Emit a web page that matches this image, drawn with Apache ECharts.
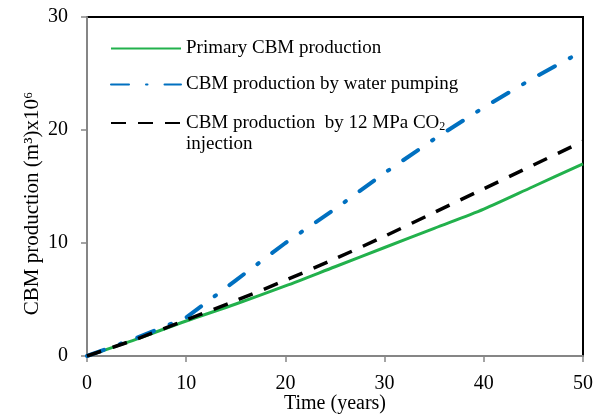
<!DOCTYPE html>
<html><head><meta charset="utf-8">
<script src="https://cdn.jsdelivr.net/npm/echarts@6/dist/echarts.min.js"></script>
<style>html,body{margin:0;padding:0;background:#fff}#c{width:606px;height:416px}</style>
</head><body><div id="c"></div>
<script>
const years = [0, 5, 10, 15, 20, 25, 30, 35, 40, 45, 50];
const primary = [0, 1.5, 3.1, 4.6, 6.2, 7.9, 9.6, 11.3, 13.0, 15.0, 17.0];
const waterPumping = [0, 1.6, 3.4, 6.7, 10.0, 13.0, 16.2, 19.2, 22.0, 24.6, 27.0];
const co2Injection = [0, 1.5, 3.2, 4.9, 6.7, 8.6, 10.6, 12.7, 14.8, 16.9, 19.0];
const xTicks = [0, 10, 20, 30, 40, 50];
const yTicks = [0, 10, 20, 30];
const names = ['Primary CBM production', 'CBM production by water pumping', 'CBM production by 12 MPa CO2 injection'];

const pair = arr => years.map((x, i) => [x, arr[i]]);
const font = 'Liberation Serif';

const rich = {
  a: {fontFamily: font, fontSize: 19, color: '#000', lineHeight: 21},
  s: {fontFamily: font, fontSize: 12, color: '#000', lineHeight: 21, padding: [8, 0, 0, 0]}
};
function legendFor(i, top, extra) {
  return {
    orient: 'vertical', left: 105, top: top, itemWidth: 70, itemHeight: 14,
    data: [names[i]],
    itemStyle: {color: 'transparent', borderWidth: 0, opacity: 0},
    formatter: function (n) {
      if (n === names[2]) return '{a|CBM production  by 12 MPa CO}{s|2}\n{a|injection}';
      return '{a|' + n + '}';
    },
    textStyle: Object.assign({fontFamily: font, fontSize: 19, color: '#000', rich: rich}, extra || {})
  };
}

const chart = echarts.init(document.getElementById('c'), null, {renderer: 'canvas'});
chart.setOption({
  animation: false,
  backgroundColor: '#fff',
  textStyle: {fontFamily: font},
  grid: {left: 87, right: 23, top: 17, bottom: 60, containLabel: false, outerBoundsMode: 'none',
         show: true, borderColor: '#000', borderWidth: 2, backgroundColor: 'transparent'},
  xAxis: {
    type: 'value', min: 0, max: 50, interval: 10,
    name: 'Time (years)', nameLocation: 'middle', nameGap: 38, nameMoveOverlap: false,
    nameTextStyle: {fontFamily: font, fontSize: 20, color: '#000'},
    axisLine: {show: true, lineStyle: {color: '#868686', width: 2}},
    axisTick: {show: true, inside: false, length: 6, lineStyle: {color: '#868686', width: 1.5}},
    axisLabel: {fontFamily: font, fontSize: 20, color: '#000', margin: 18},
    splitLine: {show: false}
  },
  yAxis: {
    type: 'value', min: 0, max: 30, interval: 10,
    name: 'CBM production (m³)x10⁶', nameLocation: 'middle', nameGap: 44, nameMoveOverlap: false,
    nameTextStyle: {fontFamily: font, fontSize: 21, color: '#000', padding: [0, 34, 0, 0]},
    axisLine: {show: true, lineStyle: {color: '#868686', width: 2}},
    axisTick: {show: true, inside: false, length: 6, lineStyle: {color: '#868686', width: 1.5}},
    axisLabel: {fontFamily: font, fontSize: 20, color: '#000', margin: 19},
    splitLine: {show: false}
  },
  legend: [
    legendFor(0, 34),
    legendFor(1, 70),
    legendFor(2, 108, {padding: [21, 0, 0, 0]})
  ],
  series: [
    {name: names[0], type: 'line', data: pair(primary), smooth: 0.3, symbol: 'none',
     lineStyle: {color: '#22B14C', width: 3}, itemStyle: {color: '#22B14C'}, z: 3},
    {name: names[1], type: 'line', data: pair(waterPumping), smooth: false, symbol: 'none',
     lineStyle: {color: '#0070C0', width: 4, type: [18, 17, 1.5, 17], cap: 'round'}, itemStyle: {color: '#0070C0'}, z: 4},
    {name: names[2], type: 'line', data: pair(co2Injection), smooth: 0.3, symbol: 'none',
     lineStyle: {color: '#000', width: 3.5, type: [15, 12]}, itemStyle: {color: '#000'}, z: 5}
  ]
});
</script></body></html>
